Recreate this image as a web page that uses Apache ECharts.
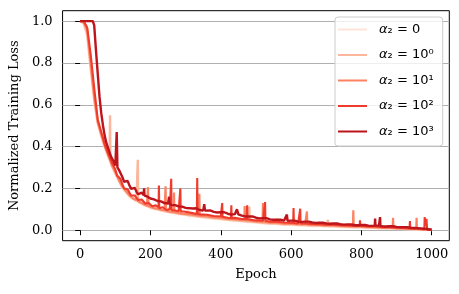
<!DOCTYPE html>
<html><head><meta charset="utf-8">
<script src="https://cdn.jsdelivr.net/npm/echarts@6/dist/echarts.min.js"></script>
<style>html,body{margin:0;padding:0;background:#fff}#c{width:459px;height:294px}</style>
</head><body><div id="c"></div>
<script>
const seriesNames = ['α₂ = 0', 'α₂ = 10⁰', 'α₂ = 10¹', 'α₂ = 10²', 'α₂ = 10³'];
const xTicks = [0, 200, 400, 600, 800, 1000];
const yTicks = [0, 0.2, 0.4, 0.6, 0.8, 1.0];
const epochs = [0,10,20,30,40,50,60,70,80,90,100,110,120,130,140,150,160,170,180,190,200,210,220,230,240,250,260,270,280,290,300,
  320,340,360,380,400,420,440,460,480,500,520,540,560,580,600,620,640,660,680,700,720,740,760,780,800,820,840,860,880,900,920,940,960,980,1000];

const loss0 = [1.0,0.99,0.93,0.77,0.62,0.51,0.45,0.395,0.35,0.305,0.27,0.236,0.203,0.183,0.162,0.15,0.139,0.131,0.121,0.115,0.107,0.103,0.098,0.095,0.09,0.087,0.083,0.081,0.077,0.076,0.072,
  0.068,0.063,0.06,0.055,0.053,0.049,0.046,0.043,0.04,0.037,0.034,0.031,0.03,0.027,0.026,0.024,0.023,0.021,0.02,0.018,0.018,0.016,0.015,0.013,0.013,0.011,0.01,0.009,0.008,0.007,0.006,0.005,0.004,0.003,0.002];
const loss1 = [1.0,0.99,0.94,0.78,0.63,0.515,0.455,0.4,0.355,0.31,0.274,0.24,0.206,0.186,0.165,0.152,0.142,0.133,0.124,0.117,0.11,0.105,0.101,0.097,0.093,0.089,0.086,0.083,0.08,0.078,0.075,
  0.07,0.066,0.062,0.058,0.055,0.051,0.048,0.045,0.042,0.039,0.036,0.033,0.032,0.029,0.028,0.026,0.025,0.023,0.022,0.02,0.02,0.018,0.017,0.015,0.015,0.013,0.012,0.011,0.01,0.008,0.007,0.006,0.005,0.003,0.002];
const loss2 = [1.0,1.0,0.96,0.8,0.64,0.52,0.46,0.405,0.36,0.312,0.28,0.242,0.21,0.188,0.168,0.153,0.145,0.134,0.127,0.118,0.113,0.106,0.104,0.098,0.096,0.09,0.089,0.084,0.083,0.079,0.078,
  0.075,0.069,0.067,0.061,0.06,0.054,0.053,0.048,0.047,0.042,0.041,0.036,0.036,0.032,0.031,0.029,0.029,0.026,0.026,0.023,0.023,0.021,0.02,0.018,0.018,0.016,0.015,0.013,0.012,0.01,0.009,0.007,0.006,0.004,0.002];
const loss3 = [1.0,1.0,0.97,0.84,0.68,0.53,0.47,0.41,0.365,0.325,0.29,0.255,0.22,0.2,0.18,0.167,0.156,0.147,0.138,0.13,0.123,0.118,0.113,0.108,0.104,0.1,0.097,0.094,0.091,0.088,0.086,
  0.082,0.076,0.074,0.068,0.066,0.06,0.059,0.054,0.052,0.047,0.046,0.041,0.041,0.037,0.036,0.033,0.032,0.03,0.029,0.027,0.026,0.024,0.023,0.021,0.021,0.018,0.018,0.015,0.014,0.012,0.011,0.008,0.007,0.004,0.002];
const loss4 = [1.0,1.0,1.0,1.0,0.98,0.75,0.56,0.45,0.39,0.345,0.31,0.29,0.255,0.24,0.215,0.205,0.185,0.178,0.168,0.162,0.152,0.148,0.14,0.138,0.13,0.128,0.121,0.12,0.114,0.113,0.107,
  0.104,0.097,0.095,0.088,0.086,0.079,0.077,0.07,0.066,0.06,0.058,0.052,0.051,0.046,0.046,0.041,0.041,0.037,0.036,0.033,0.032,0.029,0.028,0.025,0.025,0.022,0.022,0.019,0.019,0.016,0.015,0.012,0.01,0.007,0.003];

// extra readings (noise and spikes): [epoch, loss]
const extra0 = [[305,0.068],[306,0.11],[307,0.068],[559,0.03],[560,0.06],[561,0.03]];
const extra1 = [[84,0.34],[85,0.55],[86,0.34],[163,0.14],[164,0.337],[165,0.14],[480,0.042],[481,0.114],[482,0.042],[704,0.02],[705,0.05],[706,0.02]];
const extra2 = [[192,0.117],[193,0.206],[194,0.117],[242,0.095],[243,0.21],[244,0.095],[266,0.086],[267,0.18],[268,0.086],[338,0.07],[339,0.175],[340,0.07],
  [467,0.048],[468,0.116],[469,0.048],[519,0.041],[520,0.13],[521,0.041],[644,0.028],[645,0.09],[646,0.028],[776,0.018],[777,0.095],[778,0.018],
  [889,0.011],[890,0.06],[891,0.011],[956,0.006],[957,0.06],[958,0.006]];
const extra3 = [[105,0.262],[115,0.245],[125,0.2],[135,0.196],[145,0.166],[155,0.166],[165,0.145],[175,0.147],[185,0.128],[195,0.13],[205,0.115],[215,0.119],
  [225,0.105],[235,0.11],[245,0.097],[255,0.101],[265,0.091],[275,0.095],[285,0.085],[295,0.09],
  [223,0.11],[224,0.214],[226,0.11],[258,0.098],[259,0.246],[260,0.098],[284,0.09],[285,0.2],[286,0.09],[332,0.078],[333,0.25],[334,0.078],
  [403,0.064],[404,0.13],[405,0.064],[429,0.058],[430,0.12],[431,0.058],[474,0.053],[475,0.12],[476,0.053],[525,0.045],[526,0.135],[527,0.045],
  [606,0.035],[607,0.106],[608,0.035],[625,0.033],[626,0.103],[627,0.033],[795,0.02],[796,0.048],[797,0.02],[937,0.009],[938,0.044],[939,0.009],
  [979,0.004],[980,0.063],[982,0.02],[985,0.055],[987,0.003]];
const extra4 = [[36,1.0],[45,0.86],[55,0.64],[65,0.5],[75,0.415],[85,0.365],[95,0.33],
  [102,0.31],[104,0.47],[106,0.3],[115,0.282],[125,0.232],[135,0.236],[145,0.198],[155,0.203],[165,0.172],[175,0.18],[181,0.166],[182,0.2],[183,0.166],
  [195,0.162],[205,0.143],[215,0.149],[225,0.133],[235,0.139],[245,0.123],[252,0.126],[253,0.16],[254,0.126],[265,0.115],[275,0.121],[285,0.109],[295,0.114],
  [330,0.105],[350,0.094],[353,0.125],[355,0.094],[370,0.095],[390,0.085],[410,0.086],[430,0.075],[446,0.1],[450,0.076],[470,0.066],[490,0.066],
  [510,0.057],[530,0.058],[550,0.05],[570,0.05],[588,0.075],[590,0.045],[610,0.046],[630,0.04],[650,0.041],[670,0.035],[690,0.036],[710,0.031],[730,0.032],
  [750,0.027],[770,0.028],[790,0.024],[810,0.025],[830,0.021],[838,0.022],[839,0.056],[840,0.022],[850,0.022],[852,0.021],[853,0.063],[854,0.021],
  [870,0.018],[890,0.019],[910,0.015],[930,0.015],[950,0.011],[970,0.009],[990,0.005]];

const colors = ['#fee3d8', '#fcb69b', '#fc8262', '#ef3b2c', '#bd151b'];
const widths = [2.6, 2.4, 2.2, 2.1, 2.4];

function build(vals, extra) {
  const pts = epochs.map((e, i) => [e, vals[i]]).concat(extra);
  pts.sort((a, b) => a[0] - b[0]);
  return pts;
}
const allLoss = [loss0, loss1, loss2, loss3, loss4];
const allExtra = [extra0, extra1, extra2, extra3, extra4];

const chart = echarts.init(document.getElementById('c'), null, {renderer: 'canvas'});
const serif = 'DejaVu Serif';
chart.setOption({
  animation: false,
  backgroundColor: '#fff',
  grid: {left: 61.5, top: 10.7, width: 387.8, height: 230, show: true, borderColor: '#000', borderWidth: 1, backgroundColor: 'transparent', containLabel: false},
  xAxis: {
    type: 'value', min: -50, max: 1050,
    axisLine: {show: false},
    axisTick: {show: true, length: 5, lineStyle: {color: '#000', width: 1}, customValues: xTicks},
    axisLabel: {customValues: xTicks, margin: 7, fontFamily: serif, fontSize: 13, color: '#000', formatter: v => String(v)},
    splitLine: {show: false},
    name: 'Epoch', nameLocation: 'middle', nameGap: 27,
    nameTextStyle: {fontFamily: serif, fontSize: 13, color: '#000'}
  },
  yAxis: {
    type: 'value', min: -0.05, max: 1.05,
    axisLine: {show: false},
    axisTick: {show: true, length: 5, lineStyle: {color: '#000', width: 1}, customValues: yTicks},
    axisLabel: {customValues: yTicks, margin: 10, fontFamily: serif, fontSize: 13, color: '#000', formatter: v => v.toFixed(1)},
    splitLine: {show: true, lineStyle: {color: '#b0b0b0', width: 1}},
    name: 'Normalized Training Loss', nameLocation: 'middle', nameGap: 39,
    nameTextStyle: {fontFamily: serif, fontSize: 13, color: '#000'}
  },
  legend: {
    orient: 'vertical', left: 335, top: 17,
    padding: [6, 9, 8, 3], itemGap: 12.5, itemWidth: 29, itemHeight: 2, icon: 'rect',
    backgroundColor: 'rgba(255,255,255,0.8)', borderColor: '#cccccc', borderWidth: 1, borderRadius: 3,
    data: seriesNames,
    formatter: n => '{i|α}' + n.slice(1),
    textStyle: {fontFamily: 'DejaVu Sans', fontSize: 13, color: '#000',
      rich: {i: {fontFamily: 'DejaVu Sans', fontStyle: 'italic', fontSize: 13, color: '#000', padding: [0, 0, 0, 7]}}}
  },
  series: seriesNames.map((n, k) => ({
    name: n, type: 'line', showSymbol: false, symbol: 'none',
    data: build(allLoss[k], allExtra[k]),
    lineStyle: {color: colors[k], width: widths[k]},
    itemStyle: {color: colors[k]},
    z: 2 + k
  }))
});
</script></body></html>
